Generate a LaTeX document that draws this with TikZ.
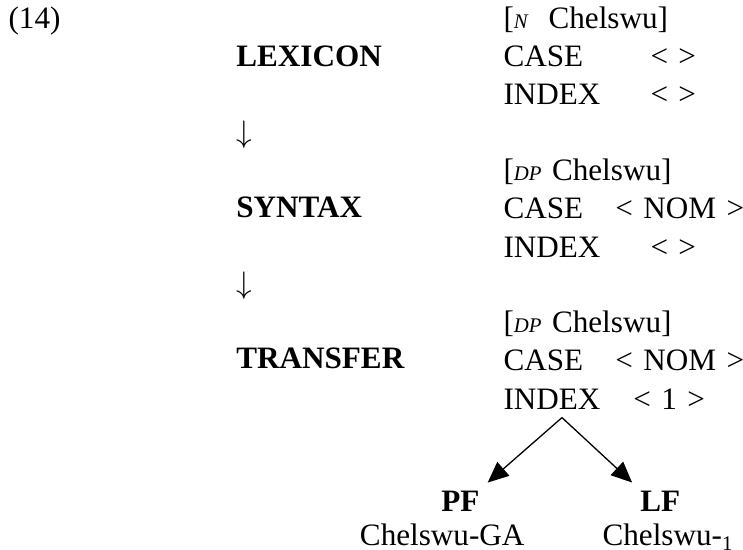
\documentclass[tikz,border=0pt,12pt]{standalone}
\usepackage{fontspec}
\setmainfont{Liberation Serif}
\usetikzlibrary{positioning,arrows.meta}

\begin{document}
\begin{tikzpicture}[node distance={2.36pt},
  entry/.style = {inner sep=0pt, text width=95pt, align=left, text height=9pt, text depth=3pt},
  stage/.style = {inner sep=0pt, text width=55pt, align=left, text height=9pt, text depth=3pt, font=\bfseries},
  lvl/.style = {inner sep=3pt, font=\bfseries},
  form/.style = {inner sep=0pt},
  split/.style = {-{Triangle[length=8pt,width=7pt]}, line width=0.5pt}]
\useasboundingbox (0,0) rectangle (286.1pt,-211.75pt);
\node[anchor=base west, inner sep=0pt] (ex) at (3.1pt,-10.8pt) {(14)};
% feature bundles
\node[entry, anchor=base west] (n1) at (193.7pt,-10.8pt) {[{\scriptsize\itshape N}\ \ Chelswu]};
\node[entry, below=of n1] (case1) {\makebox[56.6pt][l]{CASE}< >};
\node[entry, below=of case1] (index1) {\makebox[56.6pt][l]{INDEX}< >};
\node[entry, below=16.72pt of index1] (n2) {[{\scriptsize\itshape DP} Chelswu]};
\node[entry, below=of n2] (case2) {\makebox[43.1pt][l]{CASE}< NOM >};
\node[entry, below=of case2] (index2) {\makebox[56.6pt][l]{INDEX}< >};
\node[entry, below=16.72pt of index2] (n3) {[{\scriptsize\itshape DP} Chelswu]};
\node[entry, below=of n3] (case3) {\makebox[43.1pt][l]{CASE}< NOM >};
\node[entry, below=of case3] (index3) {\makebox[50pt][l]{INDEX}< 1 >};
% stages
\node[stage, left=47.5pt of case1] (lex) {LEXICON};
\node[stage, font=\normalfont, below=16.72pt of lex] (down1) {$\downarrow$};
\node[stage, below=16.72pt of down1] (syn) {SYNTAX};
\node[stage, font=\normalfont, below=16.72pt of syn] (down2) {$\downarrow$};
\node[stage, below=16.72pt of down2] (trans) {TRANSFER};
% interfaces
\coordinate (split) at ([xshift=22.7pt]index3.south west);
\node[lvl, below left=25pt and 28.6pt of split] (pf) {PF};
\node[lvl, below right=25pt and 27pt of split] (lf) {LF};
\node[form, below=1.4pt of pf, xshift=-7pt] (pfform) {Chelswu-GA};
\node[form, below=1.4pt of lf, xshift=3pt] (lfform) {Chelswu-\textsubscript{1}};
\draw[split] (split) -- (pf.north east);
\draw[split] (split) -- (lf.north west);
\end{tikzpicture}
\end{document}
